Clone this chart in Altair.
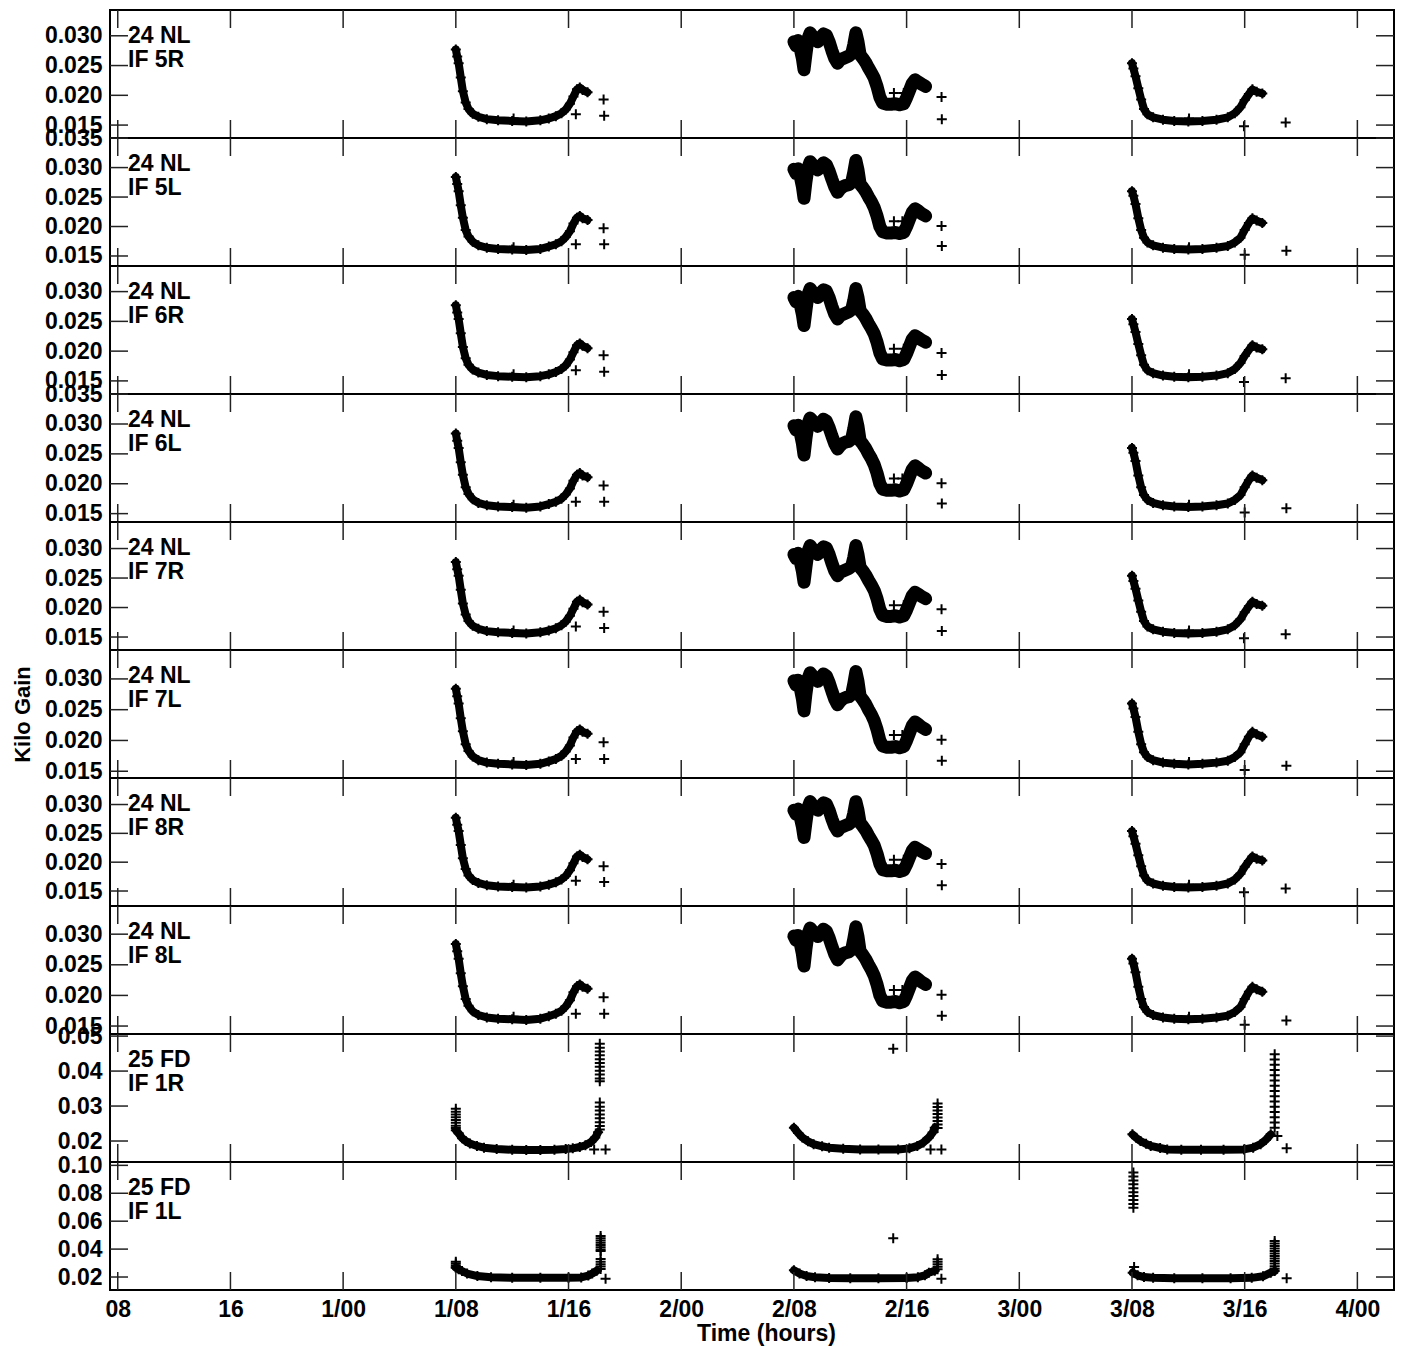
import json
import altair as alt
import pandas as pd

# ---------------- axis data ----------------
X_TICKS = [8, 16, 24, 32, 40, 48, 56, 64, 72, 80, 88, 96]
X_TICK_LABELS = ["08", "16", "1/00", "1/08", "1/16", "2/00", "2/08", "2/16",
                 "3/00", "3/08", "3/16", "4/00"]
X_DOMAIN = [7.45, 98.6]
NL_Y_TICKS = [0.015, 0.020, 0.025, 0.030, 0.035]
FD_R_Y_TICKS = [0.02, 0.03, 0.04, 0.05]
FD_L_Y_TICKS = [0.02, 0.04, 0.06, 0.08, 0.10]

# ---------------- 24 NL curves (hours since day 0) ----------------
NL_SEG1_T = [32.0, 32.1, 32.2, 32.35, 32.5, 32.7, 32.9, 33.2, 33.6, 34.2, 35.0, 36.0,
             37.0, 38.0, 38.6, 39.1, 39.5, 39.8, 40.1, 40.35, 40.6, 40.8, 41.0, 41.35]
NL_R_SEG1_V = [0.0277, 0.0265, 0.0254, 0.0230, 0.0207, 0.0188, 0.0177, 0.0169, 0.0164,
               0.0160, 0.0158, 0.0157, 0.0156, 0.0158, 0.0161, 0.0165, 0.0170, 0.0176,
               0.0186, 0.0198, 0.0210, 0.0213, 0.0209, 0.0205]
NL_L_SEG1_V = [0.0284, 0.0272, 0.0260, 0.0236, 0.0215, 0.0194, 0.0183, 0.0174, 0.0168,
               0.0164, 0.0162, 0.0161, 0.0160, 0.0162, 0.0166, 0.0170, 0.0175, 0.0182,
               0.0192, 0.0205, 0.0215, 0.0218, 0.0214, 0.0211]

NL_SEG2_T = [56.0, 56.15, 56.3, 56.45, 56.6, 56.72, 56.85, 57.0, 57.15, 57.3, 57.5, 57.7,
             57.9, 58.1, 58.3, 58.5, 58.7, 58.9, 59.1, 59.3, 59.5, 59.7, 59.9, 60.1,
             60.25, 60.4, 60.55, 60.7, 60.9, 61.1, 61.3, 61.5, 61.7, 61.9, 62.1, 62.3,
             62.6, 62.9, 63.2, 63.5, 63.8, 64.0, 64.2, 64.4, 64.6, 64.8, 65.05, 65.35]
NL_R_SEG2_V = [0.0290, 0.0283, 0.0292, 0.0278, 0.0262, 0.0243, 0.0268, 0.0295, 0.0305,
               0.0300, 0.0294, 0.0290, 0.0297, 0.0303, 0.0301, 0.0290, 0.0275, 0.0262,
               0.0254, 0.0260, 0.0262, 0.0264, 0.0266, 0.0270, 0.0285, 0.0305, 0.0290,
               0.0268, 0.0262, 0.0255, 0.0246, 0.0238, 0.0229, 0.0215, 0.0197, 0.0187,
               0.0185, 0.0185, 0.0186, 0.0184, 0.0186, 0.0196, 0.0208, 0.0220, 0.0226,
               0.0223, 0.0219, 0.0215]
NL_L_SEG2_V = [0.0297, 0.0290, 0.0298, 0.0285, 0.0268, 0.0248, 0.0275, 0.0300, 0.0310,
               0.0306, 0.0300, 0.0296, 0.0302, 0.0308, 0.0305, 0.0294, 0.0280, 0.0267,
               0.0258, 0.0264, 0.0268, 0.0270, 0.0271, 0.0275, 0.0292, 0.0312, 0.0296,
               0.0272, 0.0266, 0.0259, 0.0250, 0.0242, 0.0232, 0.0218, 0.0200, 0.0191,
               0.0189, 0.0189, 0.0190, 0.0188, 0.0190, 0.0200, 0.0212, 0.0224, 0.0230,
               0.0227, 0.0222, 0.0218]

NL_SEG3_T = [80.0, 80.1, 80.25, 80.45, 80.65, 80.85, 81.1, 81.5, 82.2, 83.0, 84.0, 85.0,
             86.0, 86.8, 87.3, 87.7, 88.0, 88.3, 88.55, 88.85, 89.25]
NL_R_SEG3_V = [0.0254, 0.0245, 0.0232, 0.0212, 0.0193, 0.0177, 0.0168, 0.0163, 0.0159,
               0.0157, 0.0156, 0.0157, 0.0159, 0.0163, 0.0170, 0.0180, 0.0192, 0.0202,
               0.0210, 0.0206, 0.0203]
NL_L_SEG3_V = [0.0260, 0.0252, 0.0238, 0.0214, 0.0194, 0.0181, 0.0173, 0.0168, 0.0164,
               0.0162, 0.0161, 0.0162, 0.0164, 0.0167, 0.0173, 0.0181, 0.0194, 0.0206,
               0.0214, 0.0210, 0.0206]

# isolated points: (time, [values])
NL_R_EXTRA = [(36.1, [0.0161]), (40.52, [0.0168]), (42.49, [0.0193]), (42.53, [0.01655]),
              (63.1, [0.0204]), (63.8, [0.0204]), (66.48, [0.0197]), (66.5, [0.0160]),
              (84.05, [0.0161]), (87.95, [0.0148]), (90.91, [0.01545])]
NL_L_EXTRA = [(36.1, [0.0165]), (40.52, [0.0170]), (42.49, [0.0197]), (42.53, [0.0170]),
              (63.1, [0.0209]), (63.7, [0.0209]), (66.48, [0.0201]), (66.5, [0.0167]),
              (84.05, [0.0165]), (88.0, [0.0152]), (90.96, [0.0159])]

# ---------------- 25 FD curves ----------------
FD_R_SEG1_T = [32.0, 32.2, 32.45, 32.7, 33.0, 33.5, 34.0, 34.9, 36.0, 37.0, 38.0, 39.0,
               39.8, 40.3, 40.8, 41.2, 41.6, 41.9, 42.1]
FD_R_SEG1_V = [0.0231, 0.0222, 0.0208, 0.0200, 0.0193, 0.0186, 0.0181, 0.0177, 0.0175,
               0.0174, 0.0174, 0.0175, 0.0177, 0.0179, 0.0183, 0.0188, 0.0197, 0.0210, 0.0225]
FD_R_SEG2_T = [56.0, 56.3, 56.6, 57.0, 57.4, 58.0, 58.5, 59.5, 60.7, 62.0, 63.4, 64.2,
               64.76, 65.2, 65.58, 65.85, 66.0]
FD_R_SEG2_V = [0.0238, 0.0223, 0.0210, 0.0199, 0.0191, 0.0185, 0.0181, 0.0178, 0.0176,
               0.0176, 0.0176, 0.0179, 0.0186, 0.0196, 0.0210, 0.0224, 0.0238]
FD_R_SEG3_T = [80.03, 80.3, 80.6, 81.0, 81.33, 82.0, 82.5, 83.5, 84.9, 86.5, 87.95, 88.6,
               89.13, 89.5, 89.85]
FD_R_SEG3_V = [0.0219, 0.0209, 0.0200, 0.0192, 0.0186, 0.0180, 0.0176, 0.0175, 0.0175,
               0.0175, 0.0176, 0.0181, 0.0191, 0.0203, 0.0219]
FD_R_EXTRA = [
    (32.0, [0.0292, 0.0284, 0.0276, 0.0268, 0.0260, 0.0252, 0.0244, 0.0237]),
    (42.22, [0.0478, 0.0467, 0.0456, 0.0445, 0.0434, 0.0423, 0.0412, 0.0401, 0.0390,
             0.0379, 0.0371]),
    (42.22, [0.0310, 0.0298, 0.0287, 0.0276, 0.0265, 0.0254, 0.0243, 0.0233]),
    (41.82, [0.0176]), (42.63, [0.0176]),
    (66.2, [0.0307, 0.0297, 0.0287, 0.0277, 0.0267, 0.0257, 0.0247, 0.0237]),
    (65.7, [0.0176]), (66.47, [0.0176]), (63.05, [0.0464]),
    (90.13, [0.0448, 0.0433, 0.0418, 0.0403, 0.0388, 0.0373, 0.0358, 0.0343, 0.0328,
             0.0313, 0.0298, 0.0283, 0.0268, 0.0253, 0.0238]),
    (90.32, [0.0214]), (90.98, [0.0179]),
]

FD_L_SEG1_T = [32.0, 32.2, 32.44, 32.8, 33.53, 34.5, 36.0, 38.0, 40.0, 40.9, 41.4, 41.68, 42.0]
FD_L_SEG1_V = [0.0267, 0.0255, 0.0243, 0.0225, 0.0207, 0.0198, 0.0195, 0.0195, 0.0195,
               0.0197, 0.0210, 0.0225, 0.0245]
FD_L_SEG2_T = [56.0, 56.4, 56.9, 57.5, 58.5, 60.0, 62.0, 64.0, 64.8, 65.3, 65.58, 66.0]
FD_L_SEG2_V = [0.0248, 0.0225, 0.0207, 0.0198, 0.0193, 0.0191, 0.0191, 0.0193, 0.0199,
               0.0212, 0.0231, 0.0245]
FD_L_SEG3_T = [80.05, 80.4, 80.85, 81.5, 83.0, 85.0, 87.0, 88.5, 89.3, 89.85, 90.13]
FD_L_SEG3_V = [0.0231, 0.0212, 0.0200, 0.0194, 0.0191, 0.0191, 0.0191, 0.0194, 0.0205,
               0.0231, 0.0243]
FD_L_EXTRA = [
    (32.0, [0.0310, 0.0296, 0.0282, 0.0270]),
    (42.28, [0.0494, 0.0478, 0.0462, 0.0446, 0.0430, 0.0414, 0.0398, 0.0386]),
    (42.28, [0.0329, 0.0310, 0.0292, 0.0275, 0.0257]),
    (42.63, [0.0188]),
    (66.2, [0.0327, 0.0309, 0.0291, 0.0273, 0.0255]),
    (66.47, [0.0188]), (63.05, [0.0477]),
    (80.1, [0.0948, 0.0920, 0.0892, 0.0864, 0.0836, 0.0808, 0.0780, 0.0752, 0.0724, 0.0697]),
    (80.15, [0.0272]),
    (90.13, [0.0458, 0.0440, 0.0422, 0.0404, 0.0386, 0.0368, 0.0350, 0.0332, 0.0314,
             0.0296, 0.0278, 0.0260]),
    (90.98, [0.0191]),
]

NL_R = [(NL_SEG1_T, NL_R_SEG1_V), (NL_SEG2_T, NL_R_SEG2_V), (NL_SEG3_T, NL_R_SEG3_V)]
NL_L = [(NL_SEG1_T, NL_L_SEG1_V), (NL_SEG2_T, NL_L_SEG2_V), (NL_SEG3_T, NL_L_SEG3_V)]
FD_R = [(FD_R_SEG1_T, FD_R_SEG1_V), (FD_R_SEG2_T, FD_R_SEG2_V), (FD_R_SEG3_T, FD_R_SEG3_V)]
FD_L = [(FD_L_SEG1_T, FD_L_SEG1_V), (FD_L_SEG2_T, FD_L_SEG2_V), (FD_L_SEG3_T, FD_L_SEG3_V)]

PANEL_STATION = ["24 NL"] * 8 + ["25 FD", "25 FD"]
PANEL_IF = ["IF 5R", "IF 5L", "IF 6R", "IF 6L", "IF 7R", "IF 7L", "IF 8R", "IF 8L",
            "IF 1R", "IF 1L"]
PANEL_CURVES = [NL_R, NL_L, NL_R, NL_L, NL_R, NL_L, NL_R, NL_L, FD_R, FD_L]
PANEL_EXTRA = [NL_R_EXTRA, NL_L_EXTRA] * 4 + [FD_R_EXTRA, FD_L_EXTRA]
PANEL_YDOMAIN = [[0.01283, 0.03433], [0.0133, 0.03502], [0.0128, 0.0343], [0.0136, 0.03502],
                 [0.0128, 0.0345], [0.0139, 0.0347], [0.0124, 0.0346], [0.0137, 0.0346],
                 [0.0140, 0.0506], [0.0107, 0.1024]]
PANEL_YTICKS = [NL_Y_TICKS] * 8 + [FD_R_Y_TICKS, FD_L_Y_TICKS]
PANEL_FMT = [".3f"] * 8 + [".2f", ".2f"]
PANEL_NOISY_SEG2 = [True] * 8 + [False, False]

# ---------------- styling ----------------
FONT = "Liberation Sans"
W, H = 1284, 128
TL = 18
PLUS = "M -1 0 L 1 0 M 0 -1 L 0 1"


def curve_df(segs):
    rows = []
    for k, (ts, vs) in enumerate(segs, start=1):
        for t, v in zip(ts, vs):
            rows.append({"t": t, "v": v, "seg": k})
    return pd.DataFrame(rows)


def extra_df(extras):
    rows = []
    for t, vs in extras:
        for v in vs:
            rows.append({"t": t, "v": v, "seg": 0})
    return pd.DataFrame(rows)


label_expr = json.dumps(X_TICK_LABELS) + "[round((datum.value - 8) / 8)]"


def make_panel(i):
    is_bottom = i == len(PANEL_IF) - 1
    dom = PANEL_YDOMAIN[i]
    yticks = [v for v in PANEL_YTICKS[i] if dom[0] <= v <= dom[1] + 1e-9]
    yaxis = alt.Axis(values=yticks, format=PANEL_FMT[i],
                     title="Kilo Gain" if i == 5 else None,
                     ticks=False, domain=False, grid=False, labelOverlap=False,
                     labelFont=FONT, labelFontSize=23, labelFontWeight="bold",
                     labelColor="black", labelPadding=8,
                     titleFont=FONT, titleFontSize=22, titleFontWeight="bold",
                     titleColor="black", titlePadding=10)
    yenc = alt.Y("v:Q", scale=alt.Scale(domain=dom, nice=False, zero=False), axis=yaxis)
    if is_bottom:
        xaxis = alt.Axis(values=X_TICKS, labelExpr=label_expr, title="Time (hours)",
                         ticks=False, domain=False, grid=False, labelFlush=False,
                         labelOverlap=False,
                         labelFont=FONT, labelFontSize=23, labelFontWeight="bold",
                         labelColor="black", labelPadding=8,
                         titleFont=FONT, titleFontSize=23, titleFontWeight="bold",
                         titleColor="black", titlePadding=1, titleX=656)
    else:
        xaxis = None
    xenc = alt.X("t:Q", scale=alt.Scale(domain=X_DOMAIN, nice=False, zero=False), axis=xaxis)

    cdf = curve_df(PANEL_CURVES[i])
    edf = extra_df(PANEL_EXTRA[i])
    pdf = pd.concat([cdf, edf], ignore_index=True)

    layers = []
    if PANEL_NOISY_SEG2[i]:
        layers.append(alt.Chart(cdf[cdf.seg != 2]).mark_line(
            color="black", strokeWidth=8, strokeJoin="round", strokeCap="round"
        ).encode(x=xenc, y=yenc, detail="seg:N"))
        layers.append(alt.Chart(cdf[cdf.seg == 2]).mark_line(
            color="black", strokeWidth=13, strokeJoin="round", strokeCap="round"
        ).encode(x=xenc, y=yenc, detail="seg:N"))
    else:
        layers.append(alt.Chart(cdf).mark_line(
            color="black", strokeWidth=8, strokeJoin="round", strokeCap="round"
        ).encode(x=xenc, y=yenc, detail="seg:N"))
    layers.append(alt.Chart(pdf).mark_point(
        shape=PLUS, size=100, strokeWidth=2, color="black", filled=False, opacity=1
    ).encode(x=xenc, y=yenc))

    ytdf = pd.DataFrame({"v": yticks})
    xtdf = pd.DataFrame({"t": X_TICKS})
    rule = dict(color="#222222", strokeWidth=1.5)
    layers.append(alt.Chart(ytdf).mark_rule(**rule).encode(
        y=yenc, x=alt.value(0), x2=alt.value(TL)))
    layers.append(alt.Chart(ytdf).mark_rule(**rule).encode(
        y=yenc, x=alt.value(W - TL), x2=alt.value(W)))
    layers.append(alt.Chart(xtdf).mark_rule(**rule).encode(
        x=xenc, y=alt.value(0), y2=alt.value(TL)))
    layers.append(alt.Chart(xtdf).mark_rule(**rule).encode(
        x=xenc, y=alt.value(H - TL), y2=alt.value(H)))
    layers.append(alt.Chart(pd.DataFrame({"k": [0]})).mark_text(
        align="left", baseline="alphabetic", font=FONT, fontSize=23,
        fontWeight="bold", lineHeight=24, color="black"
    ).encode(x=alt.value(18), y=alt.value(33),
             text=alt.value([PANEL_STATION[i], PANEL_IF[i]])))
    return alt.layer(*layers).properties(width=W, height=H)


chart = alt.vconcat(*[make_panel(i) for i in range(len(PANEL_IF))],
                    spacing=0, bounds="flush").properties(
    padding={"left": 2, "top": 0, "right": 0, "bottom": 0}
).configure_view(stroke="black", strokeWidth=2)

chart.save("out.html", embed_options={"renderer": "svg", "actions": False})
